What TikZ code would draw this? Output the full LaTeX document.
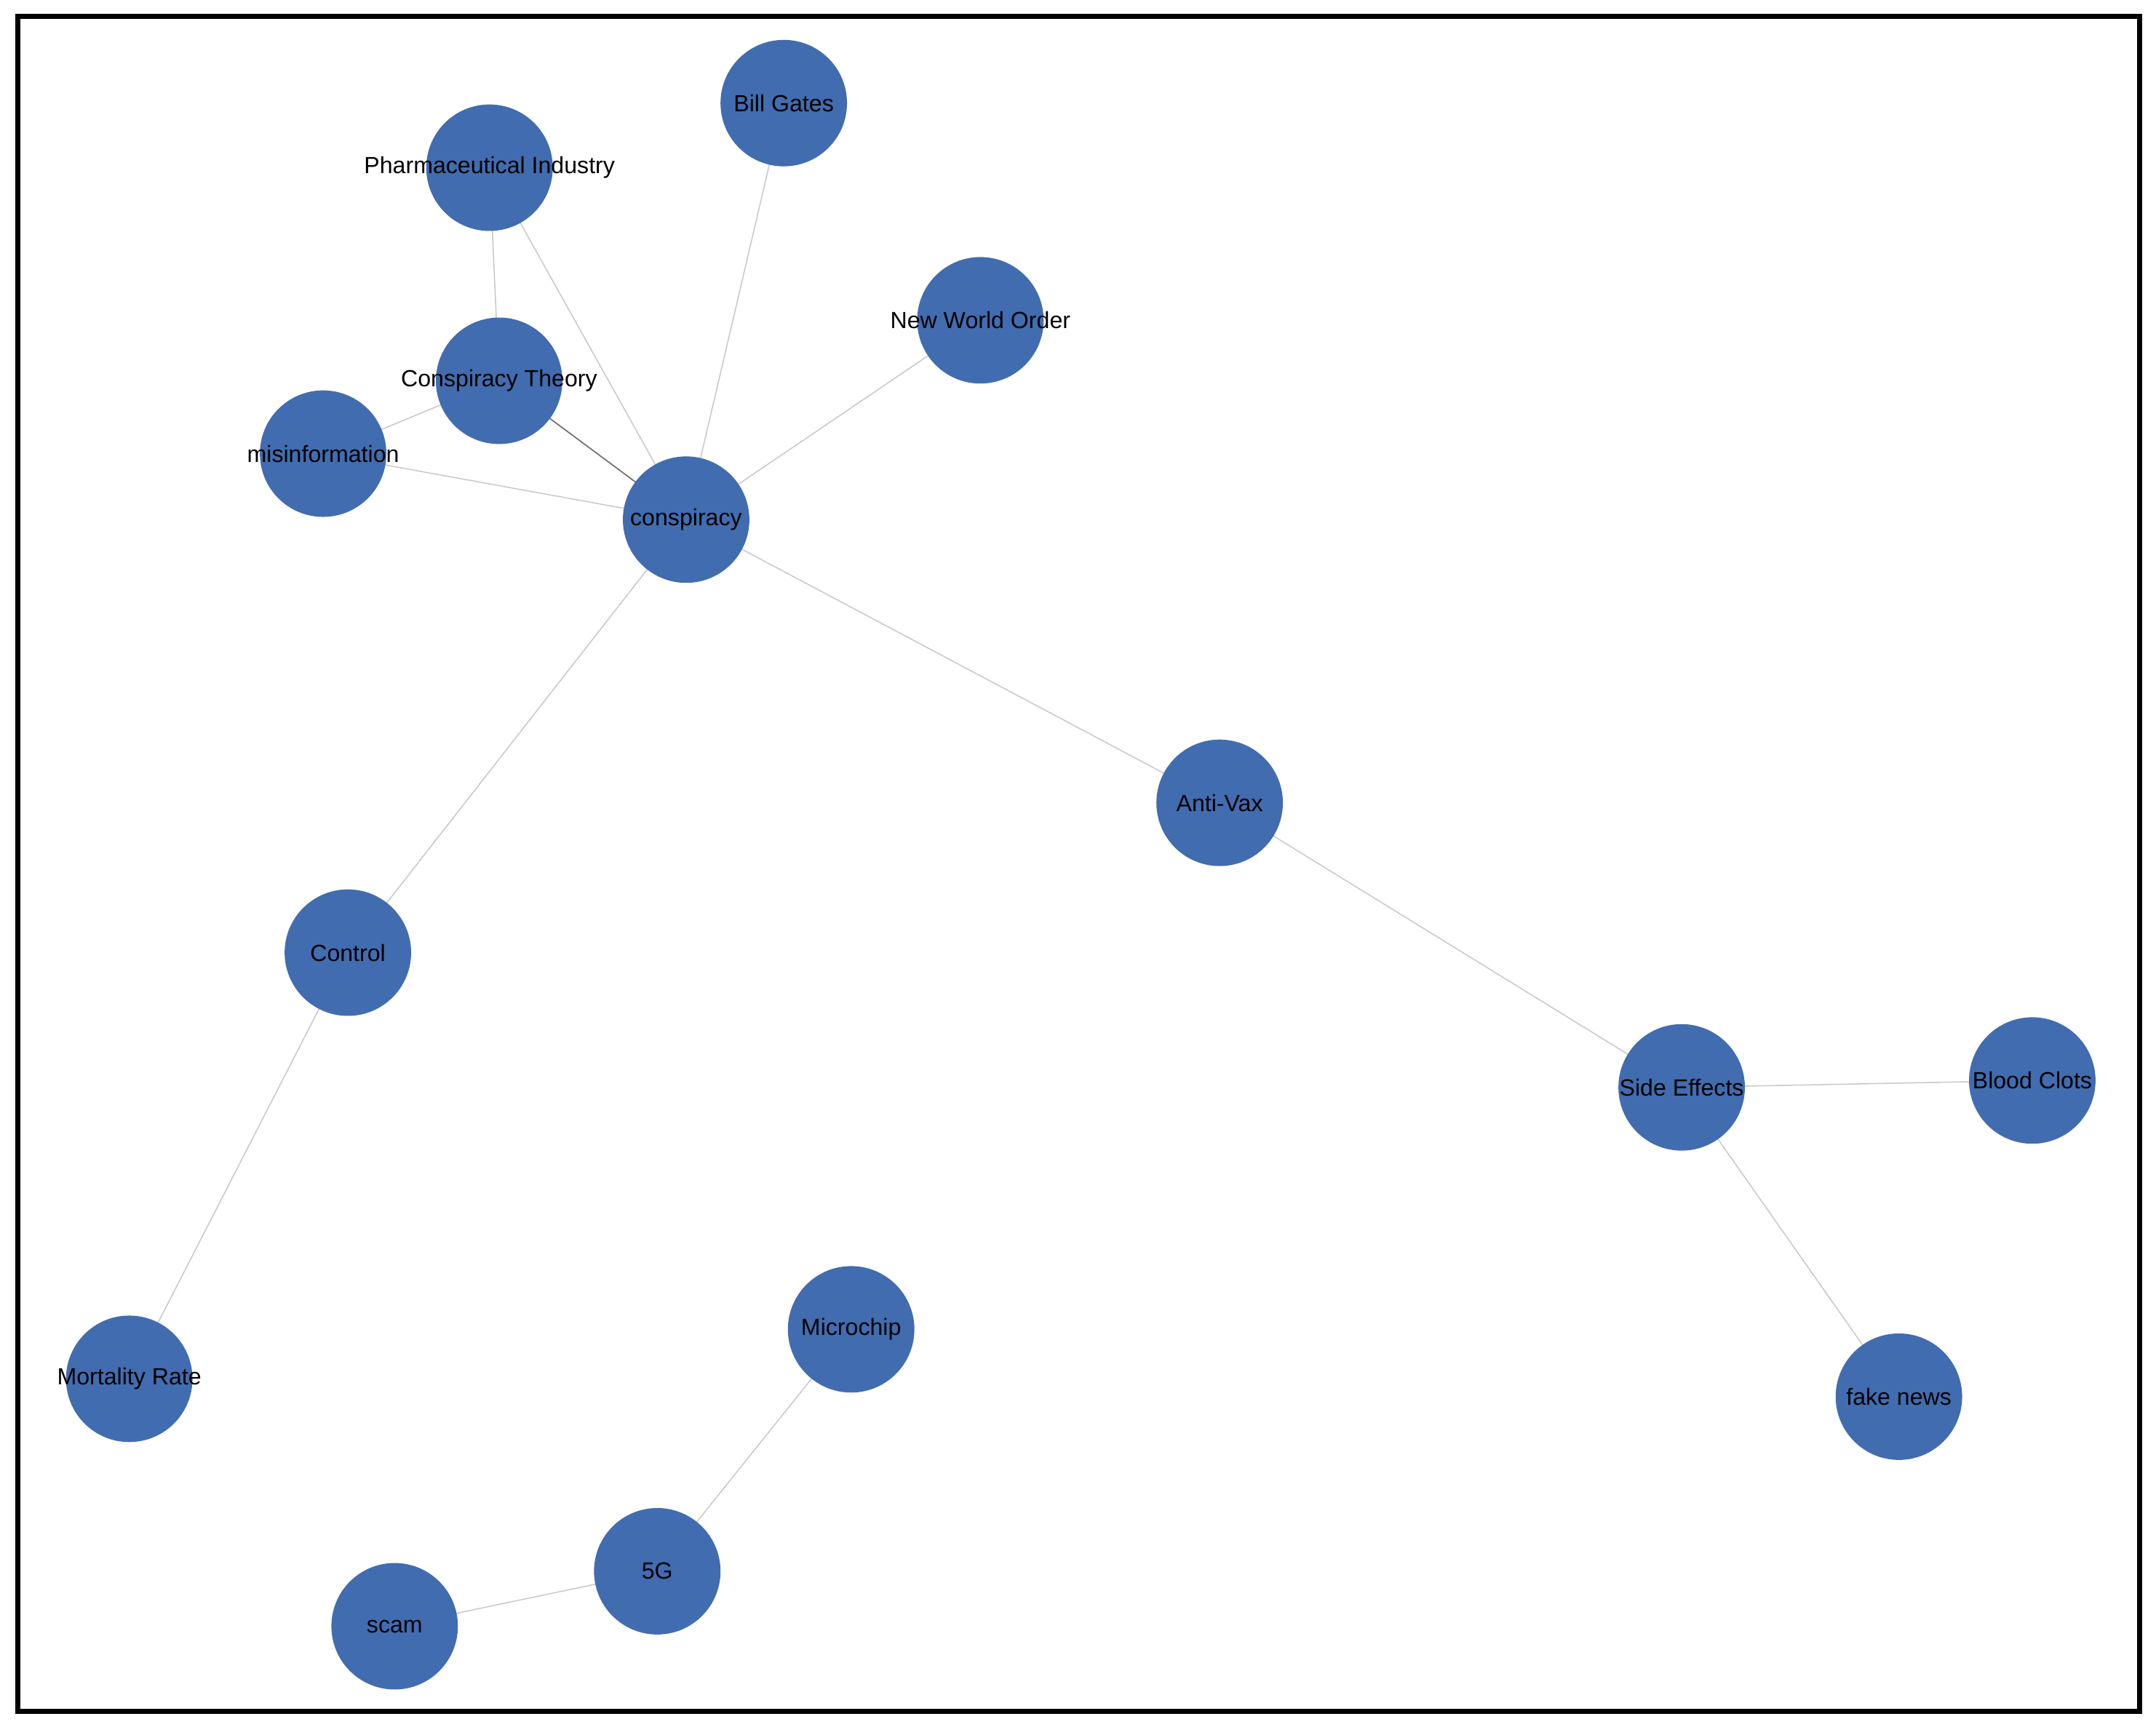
\documentclass[tikz,border=0pt]{standalone}
\usepackage{fontspec}
\setmainfont{Liberation Sans}
\begin{document}
\begin{tikzpicture}[x=1pt,y=-1pt,
  v/.style={circle,fill={rgb,255:red,65;green,108;blue,176},minimum size=92pt,inner sep=0pt},
  t/.style={font=\fontsize{17}{17}\selectfont,text=black,inner sep=0pt},
  e/.style={draw={rgb,255:red,200;green,200;blue,200},line width=0.8pt}]
\useasboundingbox (0,0) rectangle (1568,1256);
\draw[line width=4pt] (13,12) rectangle (1556,1245);
\foreach \n/\x/\y in {pi/356/122,bg/570/75,nwo/713/233,ct/363/277,mi/235/330,co/499/378,av/887/584,ctl/253/693,se/1223/791,bc/1478/786,fn/1381/1016,mr/94/1003,mc/619/967,g5/478/1143,sc/287/1183}
  \coordinate (\n) at (\x,\y);
\draw[e] (pi)--(ct) (pi)--(co) (bg)--(co) (nwo)--(co) (ct)--(mi) (mi)--(co) (co)--(av) (co)--(ctl) (ctl)--(mr) (av)--(se) (se)--(bc) (se)--(fn) (mc)--(g5) (g5)--(sc);
\draw[draw={rgb,255:red,110;green,110;blue,110},line width=0.9pt] (ct)--(co);
\foreach \n/\s in {pi/Pharmaceutical Industry,bg/Bill Gates,nwo/New World Order,ct/Conspiracy Theory,mi/misinformation,co/conspiracy,av/Anti-Vax,ctl/Control,se/Side Effects,bc/Blood Clots,fn/fake news,mr/Mortality Rate,mc/Microchip,g5/5G,sc/scam}
  \node[v] (c\n) at (\n) {};
\foreach \n/\s in {pi/Pharmaceutical Industry,bg/Bill Gates,nwo/New World Order,ct/Conspiracy Theory,mi/misinformation,co/conspiracy,av/Anti-Vax,ctl/Control,se/Side Effects,bc/Blood Clots,fn/fake news,mr/Mortality Rate,mc/Microchip,g5/5G,sc/scam}
  \node[t] (l\n) at (\n) {\s};
\end{tikzpicture}
\end{document}
